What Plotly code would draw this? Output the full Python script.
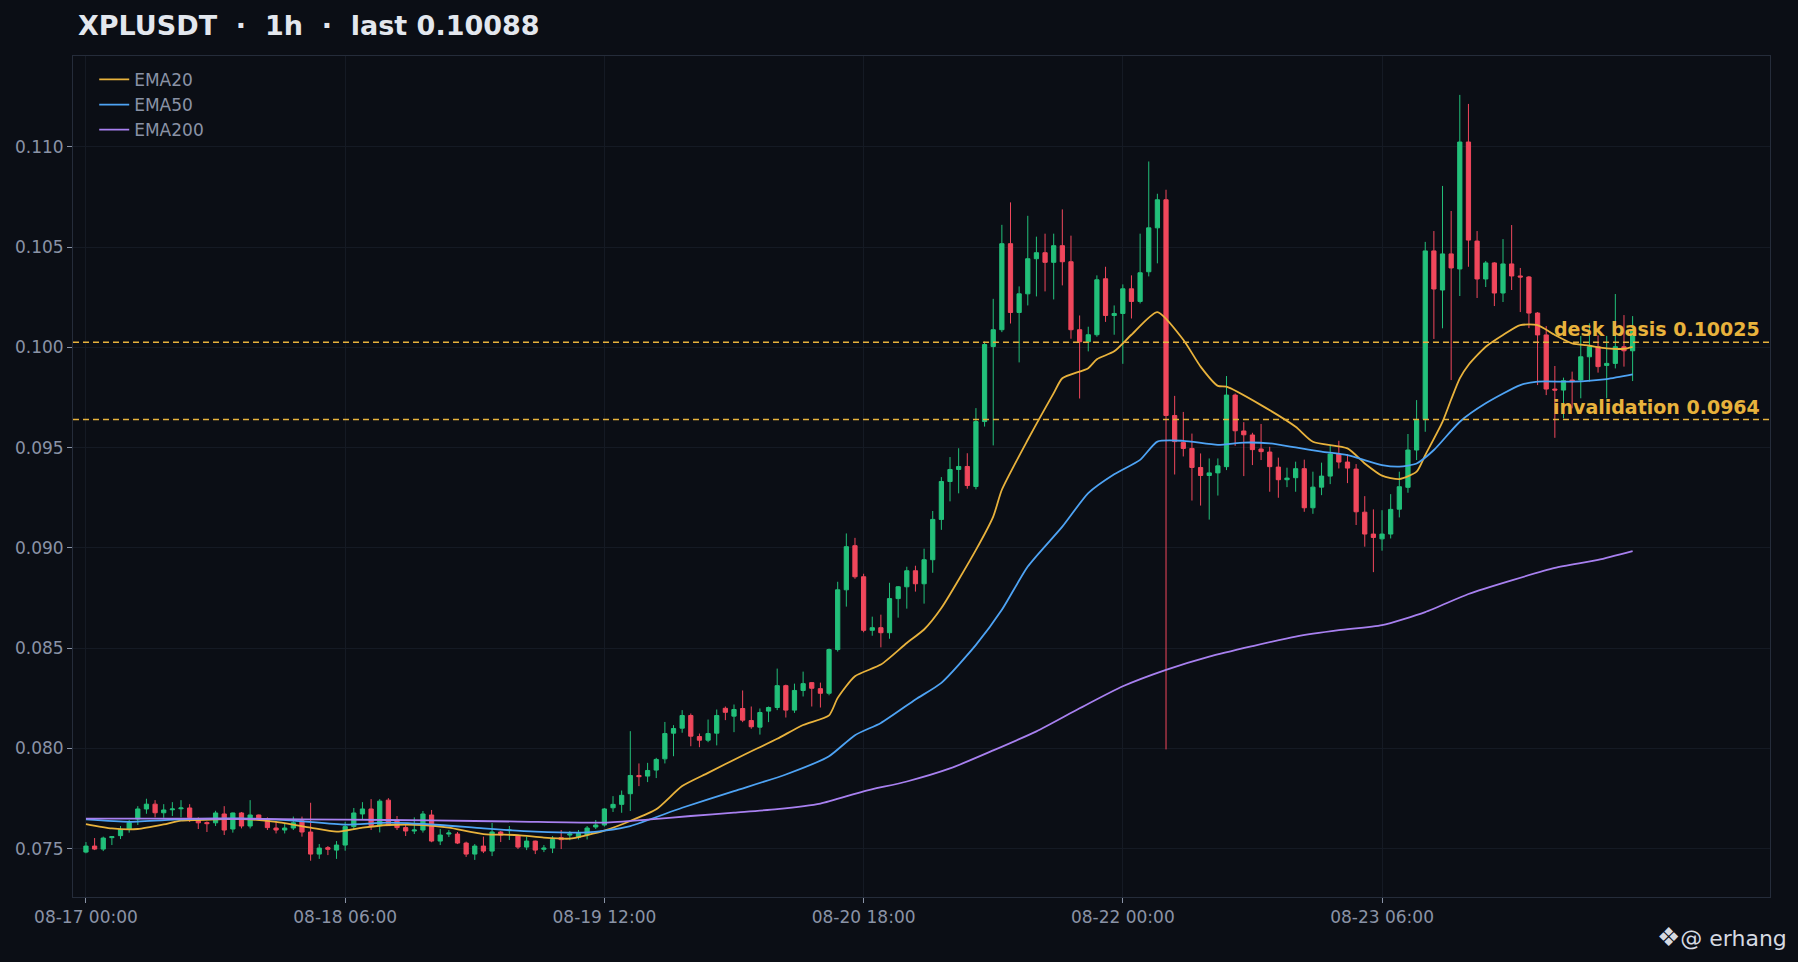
import pandas as pd
import plotly.graph_objects as go

# ---- data (hourly candles from 08-17 00:00) ----
start = pd.Timestamp("2025-08-17 00:00")

opens = [
    0.07483, 0.07513, 0.07498, 0.07555, 0.07565, 0.07596, 0.07648, 0.07698, 0.07722, 0.07679,
    0.07694, 0.07699, 0.07703, 0.07646, 0.07630, 0.07629, 0.07673, 0.07598, 0.07678, 0.07613,
    0.07668, 0.07643, 0.07603, 0.07593, 0.07603, 0.07639, 0.07583, 0.07473, 0.07505, 0.07493,
    0.07518, 0.07610, 0.07673, 0.07698, 0.07615, 0.07742, 0.07643, 0.07605, 0.07588, 0.07593,
    0.07668, 0.07538, 0.07573, 0.07573, 0.07528, 0.07473, 0.07513, 0.07488, 0.07583, 0.07590,
    0.07563, 0.07508, 0.07538, 0.07497, 0.07503, 0.07555, 0.07568, 0.07556, 0.07568, 0.07608,
    0.07618, 0.07704, 0.07721, 0.07774, 0.07865, 0.07862, 0.07892, 0.07948, 0.08076, 0.08101,
    0.08164, 0.08059, 0.08041, 0.08076, 0.08200, 0.08161, 0.08199, 0.08139, 0.08106, 0.08186,
    0.08204, 0.08313, 0.08191, 0.08289, 0.08328, 0.08298, 0.08275, 0.08493, 0.08791, 0.09011,
    0.08856, 0.08589, 0.08602, 0.08577, 0.08747, 0.08806, 0.08886, 0.08821, 0.08941, 0.09142,
    0.09331, 0.09391, 0.09406, 0.09306, 0.09630, 0.10004, 0.10088, 0.10517, 0.10174, 0.10267,
    0.10442, 0.10472, 0.10424, 0.10507, 0.10427, 0.10088, 0.10028, 0.10063, 0.10342, 0.10159,
    0.10169, 0.10292, 0.10229, 0.10377, 0.10596, 0.10736, 0.09660, 0.09525, 0.09496, 0.09401,
    0.09361, 0.09374, 0.09405, 0.09762, 0.09583, 0.09563, 0.09493, 0.09478, 0.09403, 0.09340,
    0.09350, 0.09395, 0.09200, 0.09303, 0.09358, 0.09468, 0.09428, 0.09393, 0.09178, 0.09069,
    0.09045, 0.09069, 0.09193, 0.09302, 0.09488, 0.09640, 0.10481, 0.10286, 0.10466, 0.10391,
    0.11024, 0.10530, 0.10341, 0.10421, 0.10271, 0.10416, 0.10356, 0.10351, 0.10171, 0.10062,
    0.09792, 0.09787, 0.09837, 0.09837, 0.09953, 0.10003, 0.09910, 0.09920, 0.10003, 0.09983,
]
highs = [
    0.07533, 0.07553, 0.07560, 0.07563, 0.07613, 0.07643, 0.07712, 0.07749, 0.07742, 0.07722,
    0.07732, 0.07742, 0.07722, 0.07656, 0.07636, 0.07689, 0.07712, 0.07680, 0.07683, 0.07742,
    0.07670, 0.07656, 0.07633, 0.07629, 0.07660, 0.07660, 0.07729, 0.07523, 0.07513, 0.07538,
    0.07634, 0.07703, 0.07732, 0.07747, 0.07747, 0.07752, 0.07663, 0.07621, 0.07656, 0.07688,
    0.07693, 0.07598, 0.07593, 0.07583, 0.07535, 0.07523, 0.07560, 0.07628, 0.07588, 0.07613,
    0.07568, 0.07560, 0.07540, 0.07518, 0.07563, 0.07593, 0.07588, 0.07593, 0.07613, 0.07643,
    0.07703, 0.07762, 0.07790, 0.08086, 0.07925, 0.07928, 0.07953, 0.08132, 0.08116, 0.08191,
    0.08174, 0.08074, 0.08144, 0.08194, 0.08209, 0.08219, 0.08289, 0.08209, 0.08199, 0.08209,
    0.08398, 0.08318, 0.08323, 0.08383, 0.08330, 0.08328, 0.08498, 0.08831, 0.09072, 0.09050,
    0.08871, 0.08657, 0.08667, 0.08826, 0.08810, 0.08906, 0.08911, 0.08996, 0.09184, 0.09353,
    0.09453, 0.09497, 0.09472, 0.09697, 0.10029, 0.10242, 0.10611, 0.10723, 0.10304, 0.10656,
    0.10552, 0.10567, 0.10567, 0.10688, 0.10557, 0.10159, 0.10103, 0.10359, 0.10402, 0.10209,
    0.10314, 0.10359, 0.10567, 0.10927, 0.10766, 0.10786, 0.09758, 0.09678, 0.09570, 0.09471,
    0.09446, 0.09446, 0.09857, 0.09770, 0.09627, 0.09574, 0.09618, 0.09504, 0.09450, 0.09400,
    0.09430, 0.09440, 0.09380, 0.09425, 0.09513, 0.09534, 0.09468, 0.09418, 0.09258, 0.09192,
    0.09188, 0.09268, 0.09380, 0.09568, 0.09737, 0.10526, 0.10580, 0.10805, 0.10680, 0.11259,
    0.11214, 0.10580, 0.10431, 0.10425, 0.10540, 0.10610, 0.10396, 0.10356, 0.10176, 0.10106,
    0.09907, 0.09849, 0.09879, 0.10057, 0.10120, 0.10060, 0.10057, 0.10266, 0.10161, 0.10156,
]
lows = [
    0.07477, 0.07493, 0.07488, 0.07518, 0.07548, 0.07580, 0.07618, 0.07674, 0.07656, 0.07654,
    0.07663, 0.07656, 0.07633, 0.07598, 0.07583, 0.07613, 0.07568, 0.07580, 0.07601, 0.07601,
    0.07646, 0.07593, 0.07576, 0.07576, 0.07593, 0.07560, 0.07440, 0.07449, 0.07468, 0.07449,
    0.07490, 0.07596, 0.07648, 0.07593, 0.07581, 0.07613, 0.07593, 0.07563, 0.07573, 0.07580,
    0.07532, 0.07518, 0.07558, 0.07523, 0.07459, 0.07444, 0.07478, 0.07463, 0.07533, 0.07543,
    0.07498, 0.07493, 0.07473, 0.07483, 0.07478, 0.07498, 0.07542, 0.07546, 0.07546, 0.07598,
    0.07610, 0.07683, 0.07679, 0.07688, 0.07812, 0.07832, 0.07852, 0.07925, 0.07961, 0.08078,
    0.08011, 0.08006, 0.08031, 0.08015, 0.08141, 0.08081, 0.08131, 0.08098, 0.08069, 0.08131,
    0.08191, 0.08154, 0.08177, 0.08259, 0.08209, 0.08204, 0.08265, 0.08483, 0.08707, 0.08846,
    0.08579, 0.08562, 0.08504, 0.08547, 0.08652, 0.08697, 0.08782, 0.08722, 0.08876, 0.09090,
    0.09232, 0.09272, 0.09295, 0.09292, 0.09605, 0.09511, 0.10076, 0.10119, 0.09925, 0.10209,
    0.10254, 0.10279, 0.10239, 0.10309, 0.10043, 0.09745, 0.09980, 0.10053, 0.10127, 0.10063,
    0.09918, 0.10144, 0.10219, 0.10354, 0.10419, 0.07995, 0.09366, 0.09456, 0.09236, 0.09211,
    0.09141, 0.09261, 0.09388, 0.09509, 0.09358, 0.09413, 0.09438, 0.09280, 0.09250, 0.09303,
    0.09280, 0.09180, 0.09170, 0.09263, 0.09318, 0.09396, 0.09323, 0.09114, 0.09006, 0.08879,
    0.08986, 0.09047, 0.09152, 0.09275, 0.09438, 0.09579, 0.10042, 0.10095, 0.09837, 0.10256,
    0.10402, 0.10246, 0.10301, 0.10206, 0.10226, 0.10286, 0.10176, 0.10096, 0.09812, 0.09762,
    0.09549, 0.09646, 0.09696, 0.09746, 0.09829, 0.09874, 0.09746, 0.09895, 0.09904, 0.09832,
]
closes = [
    0.07513, 0.07498, 0.07553, 0.07560, 0.07595, 0.07629, 0.07698, 0.07722, 0.07679, 0.07693,
    0.07698, 0.07703, 0.07656, 0.07629, 0.07625, 0.07678, 0.07593, 0.07678, 0.07613, 0.07668,
    0.07651, 0.07605, 0.07593, 0.07603, 0.07629, 0.07583, 0.07473, 0.07503, 0.07497, 0.07518,
    0.07610, 0.07678, 0.07698, 0.07615, 0.07737, 0.07615, 0.07605, 0.07588, 0.07593, 0.07673,
    0.07538, 0.07568, 0.07578, 0.07528, 0.07473, 0.07513, 0.07488, 0.07583, 0.07568, 0.07593,
    0.07508, 0.07538, 0.07493, 0.07503, 0.07546, 0.07545, 0.07573, 0.07576, 0.07603, 0.07618,
    0.07698, 0.07721, 0.07766, 0.07865, 0.07859, 0.07890, 0.07945, 0.08074, 0.08099, 0.08164,
    0.08061, 0.08041, 0.08074, 0.08164, 0.08180, 0.08194, 0.08141, 0.08108, 0.08179, 0.08204,
    0.08313, 0.08191, 0.08289, 0.08323, 0.08300, 0.08275, 0.08493, 0.08791, 0.09006, 0.08856,
    0.08589, 0.08602, 0.08577, 0.08747, 0.08806, 0.08886, 0.08821, 0.08941, 0.09142, 0.09331,
    0.09391, 0.09406, 0.09311, 0.09630, 0.10014, 0.10088, 0.10517, 0.10174, 0.10267, 0.10442,
    0.10472, 0.10424, 0.10507, 0.10427, 0.10088, 0.10028, 0.10063, 0.10337, 0.10159, 0.10169,
    0.10292, 0.10229, 0.10372, 0.10596, 0.10736, 0.09660, 0.09530, 0.09496, 0.09401, 0.09361,
    0.09374, 0.09409, 0.09762, 0.09584, 0.09564, 0.09490, 0.09480, 0.09405, 0.09340, 0.09348,
    0.09395, 0.09200, 0.09303, 0.09358, 0.09468, 0.09428, 0.09398, 0.09180, 0.09069, 0.09052,
    0.09069, 0.09192, 0.09305, 0.09488, 0.09637, 0.10481, 0.10291, 0.10466, 0.10396, 0.11024,
    0.10535, 0.10341, 0.10421, 0.10271, 0.10416, 0.10356, 0.10351, 0.10171, 0.10062, 0.09792,
    0.09787, 0.09834, 0.09829, 0.09953, 0.10003, 0.09904, 0.09920, 0.10003, 0.09983, 0.10088,
]

# moving averages, read at points along each line (hour index, value)
ema20_idx = [0, 3, 6, 9, 11, 15, 18, 22, 26, 29, 32, 35, 39, 42, 46, 50, 53, 56, 58, 60,
             63, 66, 69, 72, 76, 80, 83, 86, 87, 89, 92, 95, 97, 99, 103, 105, 106, 109, 112, 113,
             116, 117, 119, 121, 124, 127, 129, 131, 132, 136, 140, 142, 146, 148, 150, 152, 154, 155, 157, 158,
             159, 160, 162, 164, 166, 168, 170, 172, 174, 176, 178, 179]
ema20_val = [0.07623, 0.07601, 0.07598, 0.07621, 0.07640, 0.07646, 0.07648, 0.07634, 0.07605, 0.07585,
             0.07605, 0.07618, 0.07618, 0.07605, 0.07573, 0.07568, 0.07555, 0.07550, 0.07568, 0.07590,
             0.07638, 0.07696, 0.07812, 0.07878, 0.07965, 0.08048, 0.08117, 0.08165, 0.08252, 0.08360,
             0.08418, 0.08526, 0.08593, 0.08700, 0.08990, 0.09156, 0.09290, 0.09539, 0.09772, 0.09846,
             0.09896, 0.09941, 0.09980, 0.10063, 0.10176, 0.10038, 0.09904, 0.09808, 0.09804, 0.09712,
             0.09604, 0.09529, 0.09496, 0.09421, 0.09360, 0.09343, 0.09380, 0.09463, 0.09629, 0.09740,
             0.09845, 0.09912, 0.10003, 0.10062, 0.10111, 0.10111, 0.10062, 0.10020, 0.10008, 0.09995,
             0.09993, 0.10003]

ema50_idx = [0, 5, 11, 18, 24, 30, 35, 41, 46, 52, 58, 60, 63, 69, 75, 81, 86, 89, 92, 96,
             99, 103, 106, 109, 113, 116, 119, 122, 124, 127, 131, 134, 137, 140, 143, 146, 150, 152, 154, 156,
             159, 162, 166, 168, 172, 176, 179]
ema50_val = [0.07646, 0.07634, 0.07646, 0.07651, 0.07640, 0.07620, 0.07630, 0.07618, 0.07601, 0.07585,
             0.07581, 0.07590, 0.07613, 0.07704, 0.07787, 0.07870, 0.07961, 0.08066, 0.08127, 0.08244,
             0.08327, 0.08516, 0.08691, 0.08907, 0.09106, 0.09273, 0.09367, 0.09439, 0.09530, 0.09534,
             0.09514, 0.09525, 0.09521, 0.09501, 0.09480, 0.09463, 0.09413, 0.09405, 0.09421, 0.09488,
             0.09629, 0.09721, 0.09812, 0.09829, 0.09829, 0.09842, 0.09865]

ema200_idx = [0, 10, 20, 30, 40, 50, 60, 65, 70, 75, 80, 85, 90, 95, 100, 105, 110, 115, 120, 125,
              130, 135, 140, 145, 150, 155, 160, 165, 170, 175, 179]
ema200_val = [0.07650, 0.07650, 0.07648, 0.07645, 0.07641, 0.07635, 0.07630, 0.07645, 0.07663, 0.07680,
              0.07697, 0.07725, 0.07786, 0.07835, 0.07900, 0.07990, 0.08085, 0.08200, 0.08310, 0.08392,
              0.08458, 0.08510, 0.08558, 0.08590, 0.08615, 0.08680, 0.08770, 0.08838, 0.08900, 0.08940,
              0.08984]

desk_basis = 0.10025
invalidation = 0.0964
last_price = 0.10088

tick_hours = [0, 30, 60, 90, 120, 150]
y_ticks = [0.075, 0.080, 0.085, 0.090, 0.095, 0.100, 0.105, 0.110]

# ---- build ----
times = [start + pd.Timedelta(hours=i) for i in range(len(closes))]
def to_time(idx):
    return [start + pd.Timedelta(hours=i) for i in idx]

BG = "#0b0e15"
GRID = "#151a24"
FRAME = "#252c3a"
TXT = "#8a93a6"
GOLD = "#e8b23c"

fig = go.Figure()
fig.add_trace(go.Candlestick(
    x=times, open=opens, high=highs, low=lows, close=closes,
    increasing=dict(line=dict(color="#22c07a", width=1), fillcolor="#22c07a"),
    decreasing=dict(line=dict(color="#f0475c", width=1), fillcolor="#f0475c"),
    whiskerwidth=0, showlegend=False, name="XPLUSDT"))

for name, idx, val, col in [("EMA20", ema20_idx, ema20_val, "#e8b23c"),
                            ("EMA50", ema50_idx, ema50_val, "#4ea3f4"),
                            ("EMA200", ema200_idx, ema200_val, "#a880f0")]:
    fig.add_trace(go.Scatter(x=to_time(idx), y=val, mode="lines", name=name,
                             line=dict(color=col, width=1.8, shape="spline", smoothing=0.6),
                             legendgroup=name))

# reference levels
for lvl, label in [(desk_basis, "desk basis %.5f" % desk_basis),
                   (invalidation, "invalidation %.4f" % invalidation)]:
    fig.add_shape(type="line", xref="paper", x0=0, x1=1, y0=lvl, y1=lvl,
                  line=dict(color=GOLD, width=1.5, dash="6px,4px"))
    fig.add_annotation(xref="paper", x=0.9953, y=lvl, yanchor="bottom", xanchor="right",
                       text="<b>%s</b>" % label, showarrow=False,
                       font=dict(family="DejaVu Sans", size=19, color=GOLD))

# watermark
fig.add_annotation(xref="paper", yref="paper", x=1.011, y=-0.047, xanchor="right", yanchor="middle",
                   text="<span style='font-size:26px'>❖</span>@ erhang", showarrow=False,
                   font=dict(family="DejaVu Sans", size=22, color="#d6dae2"))

fig.update_layout(
    width=1798, height=962,
    paper_bgcolor=BG, plot_bgcolor=BG,
    margin=dict(l=73, r=28, t=56, b=65),
    font=dict(family="DejaVu Sans", color=TXT, size=17),
    title=dict(text="XPLUSDT  ·  1h  ·  last %.5f" % last_price,
               x=78 / 1798, xanchor="left", y=1 - 26 / 962, yanchor="middle", yref="container",
               font=dict(family="DejaVu Sans", size=27, color="#e3e7ee", weight="bold")),
    legend=dict(x=0.0125, y=0.993, xanchor="left", yanchor="top", bgcolor="rgba(0,0,0,0)",
                font=dict(size=17, color=TXT), traceorder="grouped", tracegroupgap=0),
    xaxis=dict(
        type="date", rangeslider=dict(visible=False),
        range=[start - pd.Timedelta(hours=1.5), start + pd.Timedelta(hours=194.9)],
        tickvals=to_time(tick_hours),
        ticktext=[(start + pd.Timedelta(hours=h)).strftime("%m-%d %H:%M") for h in tick_hours],
        showgrid=True, gridcolor=GRID, gridwidth=1,
        ticks="outside", ticklen=5, tickcolor=TXT,
        showline=True, linecolor=FRAME, mirror=True, zeroline=False,
        tickfont=dict(size=17, color=TXT)),
    yaxis=dict(
        range=[0.07259, 0.11453],
        tickvals=y_ticks, tickformat=".3f",
        showgrid=True, gridcolor=GRID, gridwidth=1,
        ticks="outside", ticklen=5, tickcolor=TXT,
        showline=True, linecolor=FRAME, mirror=True, zeroline=False,
        tickfont=dict(size=17, color=TXT)),
    hovermode=False,
)

fig.write_html("out.html", config={"displayModeBar": False},
               post_script="document.body.style.margin='0';document.body.style.overflow='hidden';")
